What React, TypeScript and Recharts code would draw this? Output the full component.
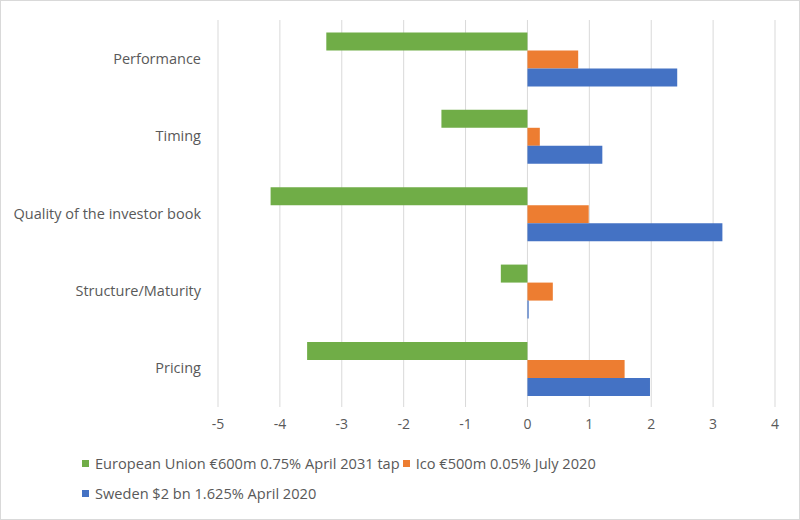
import { BarChart, Bar, XAxis, YAxis, CartesianGrid } from "recharts";

const categories = [
  "Performance",
  "Timing",
  "Quality of the investor book",
  "Structure/Maturity",
  "Pricing",
];

const euValues = [-3.25, -1.39, -4.15, -0.43, -3.56];
const icoValues = [0.82, 0.2, 0.99, 0.41, 1.57];
const swedenValues = [2.42, 1.21, 3.15, 0.02, 1.98];

const xTicks = [-5, -4, -3, -2, -1, 0, 1, 2, 3, 4];

const series = [
  { key: "eu", name: "European Union €600m 0.75% April 2031 tap", color: "#70AD47" },
  { key: "ico", name: "Ico €500m 0.05% July 2020", color: "#ED7D31" },
  { key: "sweden", name: "Sweden $2 bn 1.625% April 2020", color: "#4472C4" },
];

const data = categories.map((name, i) => ({
  name,
  eu: euValues[i],
  ico: icoValues[i],
  sweden: swedenValues[i],
}));

const FONT = "'Open Sans', Lato, sans-serif";
const TEXT = "#595959";

export default function App() {
  return (
    <div
      style={{
        position: "absolute",
        left: 0,
        top: 0,
        width: 800,
        height: 520,
        boxSizing: "border-box",
        border: "1px solid #d9d9d9",
        background: "#fff",
        fontFamily: FONT,
      }}
    >
      <div style={{ position: "absolute", left: -1, top: -1 }}>
        <BarChart
          width={800}
          height={520}
          data={data}
          layout="vertical"
          margin={{ top: 20, right: 25, bottom: 83, left: 0 }}
          barCategoryGap="16%"
          barGap={0}
        >
          <CartesianGrid horizontal={false} stroke="#d9d9d9" />
          <XAxis
            type="number"
            domain={[-5, 4]}
            ticks={xTicks}
            axisLine={false}
            tickLine={false}
            tickSize={0}
            tickMargin={12}
            height={30}
            tick={{ fill: TEXT, fontSize: 14, fontFamily: FONT }}
          />
          <YAxis
            type="category"
            dataKey="name"
            width={218}
            axisLine={false}
            tickLine={false}
            tickSize={0}
            tickMargin={17}
            tick={{ fill: TEXT, fontSize: 14.5, fontFamily: FONT }}
          />
          {series.map((s) => (
            <Bar
              key={s.key}
              dataKey={s.key}
              name={s.name}
              fill={s.color}
              isAnimationActive={false}
            />
          ))}
        </BarChart>
      </div>
      <div
        style={{
          position: "absolute",
          left: 81,
          top: 453,
          width: 580,
          display: "flex",
          flexWrap: "wrap",
          rowGap: 12,
          color: TEXT,
          fontSize: 14.6,
          lineHeight: "18px",
        }}
      >
        {series.map((s) => (
          <div key={s.key} style={{ display: "flex", alignItems: "center", marginRight: 3 }}>
            <span
              style={{
                display: "inline-block",
                width: 7,
                height: 7,
                background: s.color,
                marginRight: 6,
              }}
            />
            <span>{s.name}</span>
          </div>
        ))}
      </div>
    </div>
  );
}
